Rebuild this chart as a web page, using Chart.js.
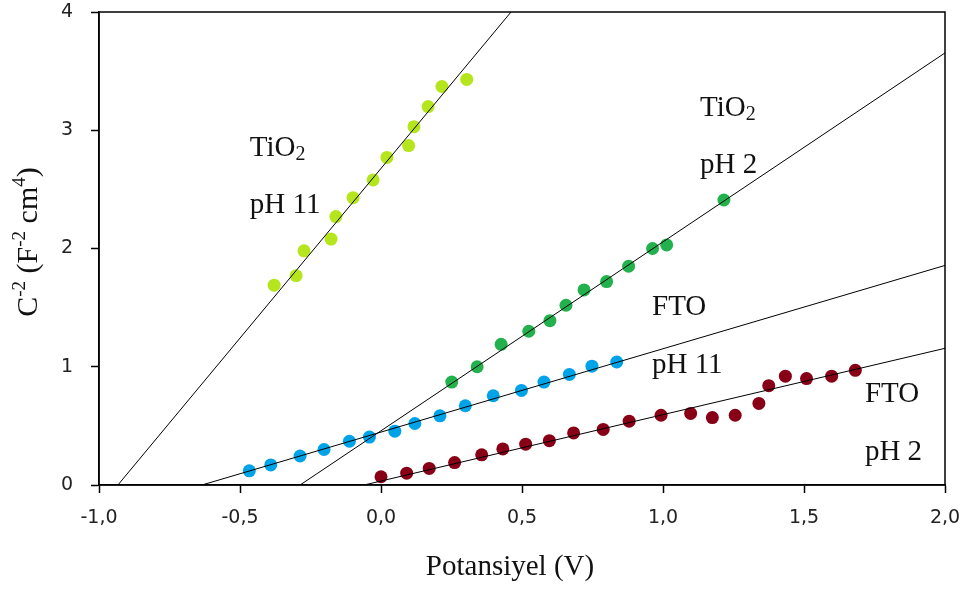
<!DOCTYPE html>
<html>
<head>
<meta charset="utf-8">
<script src="https://cdn.jsdelivr.net/npm/chart.js@4/dist/chart.umd.min.js"></script>
<style>
  html, body { margin: 0; padding: 0; background: #fff; }
  #wrap { width: 971px; height: 589px; }
</style>
</head>
<body>
<div id="wrap"><canvas id="chart" width="971" height="589"></canvas></div>
<script>
// Mott-Schottky data (C^-2 vs potential)
const tio2Ph11X = [-0.379, -0.301, -0.273, -0.177, -0.160, -0.099, -0.028, 0.021, 0.098, 0.117, 0.167, 0.216, 0.304];
const tio2Ph11Y = [1.69, 1.77, 1.98, 2.08, 2.27, 2.43, 2.58, 2.77, 2.87, 3.03, 3.20, 3.37, 3.43];

const tio2Ph2X = [0.251, 0.341, 0.426, 0.524, 0.599, 0.656, 0.720, 0.800, 0.878, 0.963, 1.013, 1.216];
const tio2Ph2Y = [0.87, 1.00, 1.19, 1.30, 1.39, 1.52, 1.65, 1.72, 1.85, 2.00, 2.03, 2.41];

const ftoPh11X = [-0.467, -0.391, -0.287, -0.202, -0.112, -0.041, 0.049, 0.120, 0.209, 0.299, 0.398, 0.498, 0.578, 0.668, 0.748, 0.836];
const ftoPh11Y = [0.12, 0.17, 0.245, 0.30, 0.37, 0.405, 0.455, 0.52, 0.585, 0.67, 0.755, 0.80, 0.87, 0.935, 1.005, 1.04];

const ftoPh2X = [0.000, 0.091, 0.171, 0.261, 0.357, 0.432, 0.513, 0.597, 0.683, 0.788, 0.880, 0.993, 1.098, 1.175, 1.256, 1.340, 1.375, 1.434, 1.509, 1.598, 1.682];
const ftoPh2Y = [0.07, 0.10, 0.14, 0.19, 0.255, 0.305, 0.345, 0.375, 0.44, 0.47, 0.54, 0.59, 0.605, 0.57, 0.59, 0.69, 0.84, 0.92, 0.90, 0.92, 0.97];

// fitted lines (end points)
const fitTio2Ph11X = [-0.933, 0.461];
const fitTio2Ph11Y = [0, 4];
const fitTio2Ph2X = [-0.287, 2.0];
const fitTio2Ph2Y = [0, 3.654];
const fitFtoPh11X = [-0.635, 2.0];
const fitFtoPh11Y = [0, 1.857];
const fitFtoPh2X = [-0.06, 2.0];
const fitFtoPh2Y = [0, 1.156];

// axis ticks
const xTicks = [-1.0, -0.5, 0.0, 0.5, 1.0, 1.5, 2.0];
const yTicks = [0, 1, 2, 3, 4];

// series labels: [text, x, baseline y]
const seriesLabels = [
    [['TiO', '2'], -0.465, 2.785], [['pH 11'], -0.465, 2.304],
    [['TiO', '2'], 1.131, 3.122], [['pH 2'], 1.131, 2.641],
    [['FTO'], 0.961, 1.435], [['pH 11'], 0.961, 0.945],
    [['FTO'], 1.716, 0.70], [['pH 2'], 1.716, 0.211]
];

function pts(xs, ys) {
    return xs.map((x, i) => ({ x: x, y: ys[i] }));
}

function fitLine(xs, ys) {
    return {
        type: 'line',
        data: pts(xs, ys),
        borderColor: '#000',
        borderWidth: 1,
        pointRadius: 0,
        fill: false,
        showLine: true,
        order: 0
    };
}

function scatter(xs, ys, color) {
    return {
        type: 'scatter',
        data: pts(xs, ys),
        backgroundColor: color,
        borderColor: color,
        borderWidth: 0,
        pointRadius: 6.5,
        order: 1
    };
}

const serif = '"Liberation Serif", "Times New Roman", serif';

const overlayPlugin = {
    id: 'overlay',
    afterDraw(chart) {
        const { ctx, chartArea, scales } = chart;
        ctx.save();
        // box round plot area
        ctx.strokeStyle = '#000';
        ctx.lineWidth = 1.5;
        ctx.strokeRect(chartArea.left, chartArea.top, chartArea.right - chartArea.left, chartArea.bottom - chartArea.top);

        // series labels
        ctx.fillStyle = '#111';
        ctx.textBaseline = 'alphabetic';
        ctx.textAlign = 'left';
        seriesLabels.forEach(([parts, x, y]) => {
            let px = scales.x.getPixelForValue(x);
            const py = scales.y.getPixelForValue(y);
            ctx.font = '29px ' + serif;
            ctx.fillText(parts[0], px, py);
            if (parts[1]) {
                px += ctx.measureText(parts[0]).width;
                ctx.font = '20px ' + serif;
                ctx.fillText(parts[1], px, py + 4);
            }
        });

        // x title
        ctx.font = '29px ' + serif;
        ctx.textAlign = 'center';
        ctx.fillText('Potansiyel (V)', 510, 575);

        // y title with superscripts
        const segs = [
            ['C', 30, 0], ['-2', 19, -12], [' (F', 30, 0], ['-2', 19, -12], [' cm', 30, 0], ['4', 19, -12], [')', 30, 0]
        ];
        let total = 0;
        segs.forEach(s => { ctx.font = s[1] + 'px ' + serif; total += ctx.measureText(s[0]).width; });
        ctx.translate(37, 242);
        ctx.rotate(-Math.PI / 2);
        ctx.textAlign = 'left';
        let cx = -total / 2;
        segs.forEach(s => {
            ctx.font = s[1] + 'px ' + serif;
            ctx.fillText(s[0], cx, s[2]);
            cx += ctx.measureText(s[0]).width;
        });
        ctx.restore();
    }
};

new Chart(document.getElementById('chart'), {
    type: 'scatter',
    data: {
        datasets: [
            fitLine(fitTio2Ph11X, fitTio2Ph11Y),
            fitLine(fitTio2Ph2X, fitTio2Ph2Y),
            fitLine(fitFtoPh11X, fitFtoPh11Y),
            fitLine(fitFtoPh2X, fitFtoPh2Y),
            scatter(tio2Ph11X, tio2Ph11Y, '#b5e61d'),
            scatter(tio2Ph2X, tio2Ph2Y, '#22b14c'),
            scatter(ftoPh11X, ftoPh11Y, '#00a2e8'),
            scatter(ftoPh2X, ftoPh2Y, '#880015')
        ]
    },
    options: {
        responsive: false,
        animation: false,
        layout: { padding: { top: 12, right: 26, left: 0, bottom: 0 } },
        plugins: {
            legend: { display: false },
            tooltip: { enabled: false }
        },
        scales: {
            x: {
                type: 'linear',
                min: -1,
                max: 2,
                afterBuildTicks: (scale) => { scale.ticks = xTicks.map(v => ({ value: v })); },
                afterFit: (scale) => { scale.height = 104; scale.paddingLeft = 0; scale.paddingRight = 0; },
                grid: { drawOnChartArea: false, drawTicks: true, tickLength: 8, color: '#000', tickWidth: 1.5 },
                border: { color: '#000', width: 1.5 },
                ticks: {
                    color: '#222',
                    padding: 14,
                    maxRotation: 0,
                    font: { family: '"DejaVu Sans", Verdana, sans-serif', size: 19 },
                    callback: (v) => v.toFixed(1).replace('.', ',')
                }
            },
            y: {
                type: 'linear',
                min: 0,
                max: 4,
                afterBuildTicks: (scale) => { scale.ticks = yTicks.map(v => ({ value: v })); },
                afterFit: (scale) => { scale.width = 99; scale.paddingTop = 0; scale.paddingBottom = 0; },
                grid: { drawOnChartArea: false, drawTicks: true, tickLength: 8, color: '#000', tickWidth: 1.5 },
                border: { color: '#000', width: 1.5 },
                ticks: {
                    color: '#222',
                    padding: 18,
                    font: { family: '"DejaVu Sans", Verdana, sans-serif', size: 19 },
                    callback: (v) => String(v)
                }
            }
        }
    },
    plugins: [overlayPlugin]
});
</script>
</body>
</html>
